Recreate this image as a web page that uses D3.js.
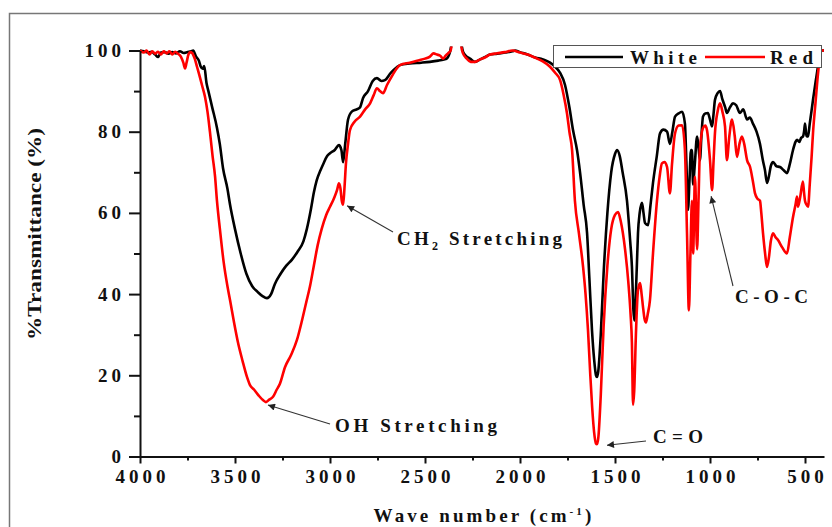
<!DOCTYPE html>
<html>
<head>
<meta charset="utf-8">
<script src="https://cdn.jsdelivr.net/npm/d3@7"></script>
<style>
  html, body { margin: 0; padding: 0; background: #fff; }
  svg { display: block; }
</style>
</head>
<body>
<svg id="chart" width="832" height="527"></svg>
<script>
// FTIR spectra of the two samples: [wavenumber (cm-1), %T]
const whiteSpectrum = [
  [4000,100],[3980,99.8],[3960,99.5],[3940,99.7],[3920,99],[3905,98.4],[3890,99.5],[3870,99.6],[3850,99.2],
  [3830,99.6],[3810,99.3],[3790,99.8],[3770,99.4],[3750,99.6],[3730,99.8],[3720,100],[3705,98.5],[3690,97.5],
  [3680,96],[3670,95.5],[3662,96.2],[3650,92],[3640,90],[3620,86],[3595,81],[3580,77],[3563,71],[3540,66],
  [3526,62],[3500,56],[3470,50],[3440,45],[3410,42],[3380,40.5],[3355,39.5],[3332,39],[3310,40],[3290,42.5],
  [3260,45],[3230,47],[3200,48.5],[3170,50.5],[3140,53],[3122,56],[3100,61],[3085,65],[3070,68],[3050,70.5],
  [3036,72],[3015,74],[3000,74.7],[2975,75.5],[2953,76.7],[2940,75.5],[2931,72.5],[2920,77],[2905,83],
  [2884,85],[2860,85.5],[2842,86],[2826,88.3],[2800,90],[2775,92.5],[2753,93.2],[2730,92.5],[2711,92.7],
  [2680,94.5],[2650,95.8],[2632,96.4],[2580,96.8],[2520,97],[2474,97.2],[2430,97.5],[2400,97.8],[2386,98],
  [2368,99.7],[2350,104],[2320,104],[2300,99.7],[2280,98.5],[2263,98],[2237,97.2],[2210,97.8],[2180,98.5],
  [2158,99],[2120,99.2],[2080,99.5],[2040,99.8],[2026,100],[2000,99.6],[1960,99],[1920,98.3],[1880,97.8],
  [1842,97],[1815,96],[1789,94.5],[1763,91.5],[1740,86],[1721,80.4],[1700,75.5],[1684,70],[1665,62],
  [1647,55],[1635,44],[1621,31],[1610,24],[1600,20],[1595,19.6],[1588,21],[1575,30],[1560,45],[1540,60],
  [1520,70],[1500,74.5],[1489,75.5],[1475,74],[1460,70],[1437,63],[1420,53],[1411,46.8],[1403,36],
  [1398,33.5],[1392,38],[1385,47],[1379,55],[1370,60],[1358,62.5],[1350,60],[1342,57.5],[1326,57],
  [1313,62],[1300,67.4],[1280,74],[1263,79.6],[1245,80.5],[1226,80],[1211,77],[1198,80],[1184,83.7],
  [1165,84.5],[1147,84.9],[1132,82],[1124,72],[1116,60.7],[1108,68],[1100,75.5],[1095,75.5],[1089,67],
  [1080,72],[1068,78.8],[1060,76],[1053,73],[1045,79],[1037,83.7],[1025,84.5],[1011,84.6],[1000,83],
  [989,81.3],[982,84],[974,87.8],[960,89.5],[947,90],[935,88],[920,86],[911,84.6],[895,86],[879,87],
  [862,86.5],[842,84.6],[825,85.5],[805,83],[790,83.5],[774,82],[755,80],[737,77],[722,73],[711,70.6],
  [700,67.4],[690,69],[680,71.5],[668,72.5],[650,71.5],[632,71.3],[612,70.5],[595,69.8],[580,72],
  [563,75.5],[550,77.5],[542,78],[530,77.5],[520,78.5],[511,78.8],[505,80],[500,82],[492,79],[484,78.8],
  [475,82],[466,85],[458,87.8],[445,92],[432,96],[421,100],[400,100]
];

const redSpectrum = [
  [4000,100],[3980,99.5],[3965,100],[3950,99],[3935,99.8],[3920,99.2],[3905,99.7],[3890,99],[3875,99.8],
  [3860,99.3],[3845,99.8],[3830,99],[3815,99.7],[3800,99.2],[3785,98.5],[3772,97],[3763,95.6],[3755,97],
  [3745,99],[3735,99.6],[3726,99.4],[3712,98],[3700,96],[3688,94],[3674,91.5],[3658,88.6],[3645,85],
  [3632,80],[3618,74],[3605,69],[3595,63],[3579,55.8],[3560,48],[3540,42],[3526,38.5],[3505,33],[3484,28],
  [3460,23.5],[3437,19.6],[3421,17.6],[3400,16.5],[3375,15],[3353,13.9],[3337,13.4],[3320,14],[3300,14.7],
  [3280,16.5],[3263,18],[3237,22],[3205,25],[3174,28.7],[3150,33],[3125,38],[3105,42],[3085,47],[3065,52],
  [3044,56],[3020,59.5],[3000,61.5],[2980,63.5],[2963,65.6],[2953,67.3],[2945,66],[2938,63],[2931,62],
  [2924,66],[2916,72.2],[2905,77],[2895,80.4],[2870,82.5],[2842,83.7],[2815,85.5],[2789,87],[2770,89],
  [2753,90.7],[2737,90],[2721,89.5],[2700,91.5],[2670,94],[2650,95.5],[2632,96.4],[2580,97],[2530,97.6],
  [2500,98],[2474,98.5],[2455,99.3],[2437,99],[2420,98.7],[2405,98],[2390,98.8],[2379,99.3],[2365,100],
  [2350,104],[2320,104],[2305,100],[2300,99.3],[2280,98],[2260,97.2],[2237,97.2],[2210,97.8],[2180,98.4],
  [2158,99],[2120,99.3],[2080,99.6],[2040,100],[2000,99.5],[1960,99],[1920,98.2],[1880,97.3],[1842,96],
  [1815,94.5],[1789,92.7],[1770,89],[1753,84.6],[1740,80],[1726,75.5],[1711,63],[1690,55],[1668,46.7],
  [1655,40],[1642,31],[1630,20],[1620,12],[1610,6],[1600,3.2],[1595,3],[1588,4.5],[1575,15],[1560,32],
  [1540,47],[1520,56],[1500,59.5],[1484,60.2],[1470,58],[1447,51],[1430,43],[1418,35],[1411,28],
  [1405,12.7],[1399,16],[1390,30],[1379,41],[1368,42.7],[1360,40],[1353,37],[1345,34],[1337,33],
  [1328,35],[1316,38.5],[1300,50],[1279,63],[1265,69],[1253,72.2],[1240,72.5],[1226,71.3],[1211,64.8],
  [1200,72],[1184,79.6],[1165,81.5],[1147,81.6],[1132,75.5],[1121,55],[1111,36],[1103,50],[1095,63],
  [1089,50],[1079,68.9],[1068,51],[1060,64],[1053,75.5],[1037,80.9],[1025,81.5],[1016,80.4],[1000,73],
  [989,65.6],[982,72],[974,79.6],[960,85],[947,87],[935,85],[921,81.3],[911,73],[898,79],[884,83],
  [870,79],[858,73.8],[845,77],[832,78.8],[820,77],[805,73],[789,71.3],[775,68],[763,64.8],[750,63.5],
  [737,63],[730,60],[721,55],[710,50],[700,46.7],[690,49],[680,53],[668,55],[655,54],[642,53.3],
  [620,51.5],[595,50],[580,54],[563,59],[550,62],[542,64],[537,61.5],[525,64],[511,67.7],[505,65],
  [500,63],[492,62],[484,61.5],[475,67],[465,74],[458,79.6],[445,87],[430,95],[415,100],[400,100]
];

const seriesNames = ["White", "Red"];
const seriesColors = ["#000000", "#ff0000"];

const xMajorTicks = [4000, 3500, 3000, 2500, 2000, 1500, 1000, 500];
const xMinorTicks = [3750, 3250, 2750, 2250, 1750, 1250, 750];
const yMajorTicks = [0, 20, 40, 60, 80, 100];
const yMinorTicks = [10, 30, 50, 70, 90];

// band assignments: label, pointed wavenumber and %T
const bandLabels = [
  { text: "OH Stretching", wn: 3337, t: 13.4 },
  { text: "CH2 Stretching", wn: 2931, t: 62 },
  { text: "C=O", wn: 1595, t: 3 },
  { text: "C-O-C", wn: 989, t: 65.6 }
];

const FONT = '"Liberation Serif", "Times New Roman", Tinos, serif';
const TEXT_FILL = "#111";

const svg = d3.select("#chart");
const styled = sel => sel.style("font-family", FONT).style("font-weight", "bold")
  .style("font-size", "19px").attr("fill", TEXT_FILL);

// widen a text's tracking so its glyphs span `width` px; shift to keep its anchor
function track(sel, width, anchor) {
  sel.each(function() {
    const n = this.textContent.length;
    const natural = this.getComputedTextLength();
    const ls = n > 1 ? Math.max(0, (width - natural) / (n - 1)) : 0;
    d3.select(this).style("letter-spacing", ls + "px");
    if (anchor === "middle") d3.select(this).attr("dx", ls / 2);
    if (anchor === "end") d3.select(this).attr("dx", ls);
  });
  return sel;
}

// outer frame
svg.append("rect")
  .attr("x", 9.5).attr("y", 13.5).attr("width", 840).attr("height", 540)
  .attr("fill", "none").attr("stroke", "#777").attr("stroke-width", 1.5);

const x = d3.scaleLinear().domain([4000, 400]).range([140, 824]);
const y = d3.scaleLinear().domain([0, 100]).range([456.5, 50.5]);

svg.append("defs").append("clipPath").attr("id", "plotClip")
  .append("rect").attr("x", 140).attr("y", y(100) - 4).attr("width", 690).attr("height", y(0) - y(100) + 4);

// spectra
const line = d3.line().x(d => x(d[0])).y(d => y(d[1])).curve(d3.curveMonotoneX);
const plot = svg.append("g").attr("clip-path", "url(#plotClip)");
[whiteSpectrum, redSpectrum].forEach((s, i) => {
  plot.append("path").datum(s)
    .attr("d", line)
    .attr("fill", "none")
    .attr("stroke", seriesColors[i])
    .attr("stroke-width", 2.6)
    .attr("stroke-linejoin", "round");
});

// axes
const digitWidth = s => s.length * 9.5 + (s.length - 1) * 4;

const xAxis = svg.append("g").attr("transform", `translate(0,${y(0)})`)
  .call(d3.axisBottom(x).tickValues(xMajorTicks).tickSize(7).tickSizeOuter(0).tickPadding(6)
    .tickFormat(d3.format("d")));
svg.append("g").attr("transform", `translate(0,${y(0)})`)
  .call(d3.axisBottom(x).tickValues(xMinorTicks).tickSize(4).tickSizeOuter(0).tickFormat(""))
  .select(".domain").remove();

const yAxis = svg.append("g").attr("transform", `translate(${x(4000)},0)`)
  .call(d3.axisLeft(y).tickValues(yMajorTicks).tickSize(11).tickSizeOuter(0).tickPadding(8));
svg.append("g").attr("transform", `translate(${x(4000)},0)`)
  .call(d3.axisLeft(y).tickValues(yMinorTicks).tickSize(6).tickSizeOuter(0).tickFormat(""))
  .select(".domain").remove();

svg.selectAll(".domain").attr("stroke", "#111").attr("stroke-width", 2);
svg.selectAll(".tick line").attr("stroke", "#111").attr("stroke-width", 2);
xAxis.selectAll("text").call(styled).each(function() {
  track(d3.select(this), digitWidth(this.textContent), "middle");
});
yAxis.selectAll("text").call(styled).each(function() {
  track(d3.select(this), digitWidth(this.textContent), "end");
});

// axis titles
const xTitle = styled(svg.append("text"))
  .attr("x", 484).attr("y", 522).attr("text-anchor", "middle")
  .style("letter-spacing", "3.1px");
xTitle.append("tspan").text("Wave number (cm");
xTitle.append("tspan").attr("dy", -7).style("font-size", "11px").text("-1");
xTitle.append("tspan").attr("dy", 7).text(")");

styled(svg.append("text"))
  .attr("transform", "translate(41,234) rotate(-90)")
  .attr("text-anchor", "middle")
  .attr("textLength", 212).attr("lengthAdjust", "spacingAndGlyphs")
  .text("%Transmittance (%)");

// legend
const legend = svg.append("g");
legend.append("rect").attr("x", 553.5).attr("y", 45.5).attr("width", 268).attr("height", 22)
  .attr("fill", "#fff").attr("stroke", "#555").attr("stroke-width", 1);
const legendItems = [
  { x1: 565, x2: 623, tx: 630, tw: 67 },
  { x1: 705, x2: 765, tx: 770, tw: 43 }
];
legendItems.forEach((it, i) => {
  legend.append("line").attr("x1", it.x1).attr("x2", it.x2).attr("y1", 57).attr("y2", 57)
    .attr("stroke", seriesColors[i]).attr("stroke-width", 2.4);
  track(styled(legend.append("text")).attr("x", it.tx).attr("y", 63.5).text(seriesNames[i]), it.tw, "start");
});

// annotation arrows
const ann = svg.append("g");
ann.append("defs").append("marker")
  .attr("id", "arrowHead").attr("viewBox", "0 0 10 10").attr("refX", 10).attr("refY", 5)
  .attr("markerWidth", 9).attr("markerHeight", 7).attr("markerUnits", "userSpaceOnUse")
  .attr("orient", "auto")
  .append("path").attr("d", "M0,0 L10,5 L0,10 Z").attr("fill", "#222");

const arrows = [
  { from: [330, 424], to: [x(bandLabels[0].wn) + 2, y(bandLabels[0].t) + 3] },
  { from: [393, 232], to: [x(bandLabels[1].wn) + 4, y(bandLabels[1].t) + 1] },
  { from: [646, 441], to: [x(bandLabels[2].wn) + 10, y(bandLabels[2].t) + 1] },
  { from: [733, 286], to: [x(bandLabels[3].wn) - 1, y(bandLabels[3].t) + 6] }
];
arrows.forEach(a => {
  ann.append("line")
    .attr("x1", a.from[0]).attr("y1", a.from[1]).attr("x2", a.to[0]).attr("y2", a.to[1])
    .attr("stroke", "#333").attr("stroke-width", 1.1)
    .attr("marker-end", "url(#arrowHead)");
});

// annotation labels
const labelText = (txt, lx, ly, w) =>
  track(styled(ann.append("text")).attr("x", lx).attr("y", ly).text(txt), w, "start");
labelText(bandLabels[0].text, 335, 432, 162);

// CH2 label: subscript via tspans in one text element
const ch2 = styled(ann.append("text")).attr("x", 397).attr("y", 245).style("letter-spacing", "3.2px");
ch2.append("tspan").text("CH");
ch2.append("tspan").attr("dy", 5).style("font-size", "12px").text("2");
ch2.append("tspan").attr("dy", -5).text(" Stretching");

labelText(bandLabels[2].text, 653, 443, 50);
labelText(bandLabels[3].text, 735, 303, 73);
</script>
</body>
</html>
